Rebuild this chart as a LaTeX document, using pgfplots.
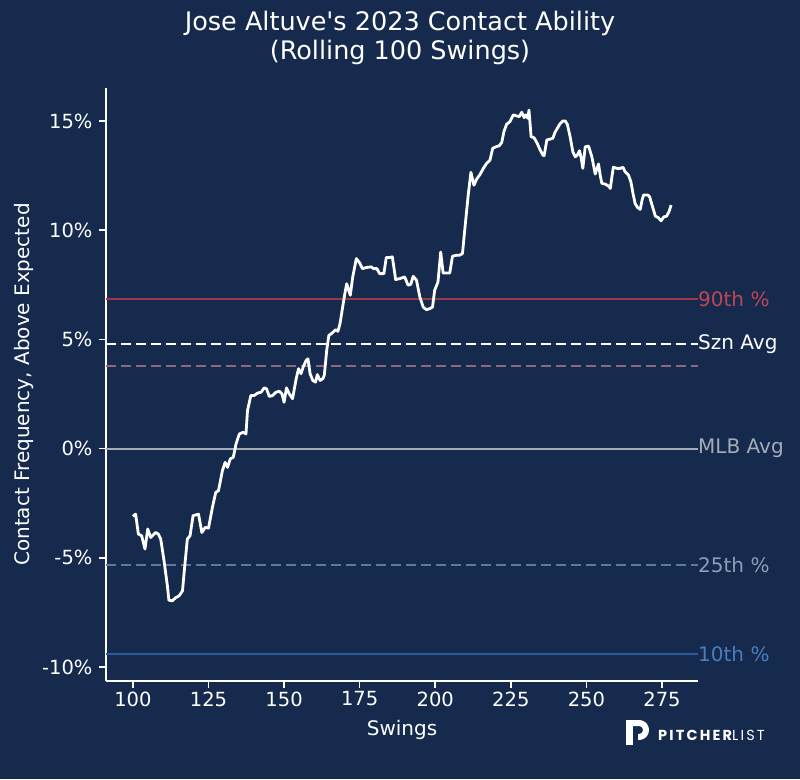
\documentclass[border=0pt]{standalone}
\usepackage{fontspec}
\setmainfont{DejaVu Sans}[Ligatures=TeXReset]
\newfontfamily\logofont[LetterSpace=15]{Poppins}
\usepackage{pgfplots}
\pgfplotsset{compat=1.18}
\definecolor{bg}{RGB}{22,42,77}
\definecolor{redl}{RGB}{160,55,72}
\definecolor{redt}{RGB}{190,70,85}
\definecolor{mauve}{RGB}{140,105,125}
\definecolor{mlb}{RGB}{165,172,185}
\definecolor{q25}{RGB}{95,120,155}
\definecolor{q25t}{RGB}{140,158,185}
\definecolor{q10}{RGB}{40,90,160}
\definecolor{q10t}{RGB}{75,125,190}
\begin{document}
\begin{tikzpicture}[x=1pt,y=1pt]
\fill[bg] (0,0) rectangle (800,779);
\begin{axis}[
  at={(106pt,98pt)}, anchor=south west,
  scale only axis, width=592pt, height=593pt,
  xmin=91.1, xmax=286.9, ymin=-10.64, ymax=16.51,
  axis x line*=bottom, axis y line*=left,
  axis line style={-, white, line width=1.8pt},
  tick align=outside, major tick length=7pt,
  tick style={white, line width=1.6pt},
  xtick={100,125,150,175,200,225,250,275},
  xticklabels={100,125,150,175,200,225,250,275},
  ytick={-10,-5,0,5,10,15},
  yticklabels={-10\%,-5\%,0\%,5\%,10\%,15\%},
  ticklabel style={text=white, font=\fontsize{19.5}{22}\selectfont},
  yticklabel style={xshift=-3pt},
  xlabel={Swings}, ylabel={Contact Frequency, Above Expected},
  label style={text=white, font=\fontsize{20}{24}\selectfont},
  xlabel style={yshift=-7pt},
  ylabel style={yshift=2pt},
  clip=false,
]
\addplot[redl, line width=2pt] coordinates {(91.1,6.83) (286.9,6.83)};
\addplot[white, line width=2pt, dash pattern=on 10pt off 5pt] coordinates {(91.1,4.77) (286.9,4.77)};
\addplot[mauve, line width=2pt, dash pattern=on 10pt off 5pt] coordinates {(91.1,3.76) (286.9,3.76)};
\addplot[mlb, line width=2pt] coordinates {(91.1,0) (286.9,0)};
\addplot[q25, line width=2pt, dash pattern=on 10pt off 5pt] coordinates {(91.1,-5.32) (286.9,-5.32)};
\addplot[q10, line width=2pt] coordinates {(91.1,-9.40) (286.9,-9.40)};
\addplot[white, line width=2.8pt, line join=round] coordinates {
(100.0,-3.10) (100.9,-3.00) (101.8,-3.91) (102.9,-3.99) (104.0,-4.60) (104.9,-3.68) (105.9,-4.07) (107.5,-3.84) (108.4,-3.91) (109.2,-4.14) (110.3,-5.14) (111.4,-6.28) (111.9,-6.94) (113.0,-6.97) (114.2,-6.82) (115.3,-6.74) (116.4,-6.51) (117.1,-5.44) (118.0,-4.14) (118.9,-3.99) (119.9,-3.07) (121.7,-3.00) (122.8,-3.84) (123.9,-3.61) (125.0,-3.64) (126.3,-2.69) (127.4,-2.00) (128.3,-1.93) (129.6,-1.01) (130.5,-0.63) (131.3,-0.86) (132.2,-0.47) (133.2,-0.40) (134.1,0.21) (135.2,0.67) (136.5,0.75) (137.4,0.67) (137.9,1.74)
(139.0,2.43) (140.1,2.43) (141.2,2.54) (142.4,2.58) (143.4,2.78) (144.2,2.74) (145.1,2.39) (146.2,2.43) (147.3,2.58) (148.4,2.63) (149.3,2.51) (150.0,2.12) (150.8,2.78) (151.7,2.51) (152.8,2.28) (154.0,3.20) (154.8,3.66) (155.6,3.43) (156.4,3.76) (157.3,4.04) (157.9,4.11) (158.6,3.43) (159.5,3.12) (160.4,3.04) (161.0,3.39) (161.9,3.12) (162.8,3.20) (163.3,3.35) (164.1,4.50) (164.8,5.18) (165.9,5.29) (167.0,5.44) (167.8,5.37) (168.5,5.72) (169.2,6.33) (170.0,7.02) (170.7,7.55) (171.9,7.02) (172.7,7.86) (173.9,8.70) (175.0,8.50) (175.9,8.24) (177.2,8.29) (178.8,8.32) (179.6,8.24) (180.7,8.24) (181.6,8.01) (183.0,8.01) (183.8,8.75) (184.9,8.75) (185.8,8.78) (186.9,7.74) (188.2,7.78) (189.3,7.83) (189.9,7.86) (191.0,7.48) (191.9,7.52) (192.7,7.89) (193.8,7.71) (194.9,6.94) (196.0,6.48) (197.1,6.36) (198.2,6.41) (199.1,6.48) (199.8,7.25) (200.9,7.63) (201.8,9.00) (202.6,8.04) (203.7,8.04) (204.8,8.04) (205.7,8.81) (207.0,8.85) (208.0,8.85) (209.0,8.93) (209.8,10.08) (210.9,11.61) (211.8,12.65) (212.8,12.06) (213.7,12.34) (214.8,12.55) (215.9,12.83) (217.0,13.06) (218.1,13.21) (219.0,13.75) (220.1,13.82) (221.2,13.87) (222.0,14.02) (222.7,14.51) (223.6,14.85) (224.7,14.97) (225.8,15.28) (226.7,15.24) (227.8,15.20) (228.6,15.40) (229.4,15.15) (230.0,15.28) (230.6,15.12) (231.0,15.50) (231.7,14.28) (232.7,14.23) (233.7,13.98) (234.7,13.67) (235.6,13.44) (236.0,13.41) (236.9,14.13) (238.0,14.17) (238.9,14.21) (239.6,14.48) (240.4,14.67) (241.3,14.88) (242.2,15.00) (243.0,15.00) (243.7,14.84) (244.6,14.28) (245.5,13.59) (246.3,13.36) (247.0,13.44) (247.7,13.64) (248.3,13.29) (248.8,12.83) (249.6,13.82) (250.7,13.85) (251.8,13.36) (252.9,12.57) (253.5,12.83) (254.0,13.03) (254.6,12.48) (255.1,12.14) (256.2,12.11) (257.3,12.02) (257.9,11.91) (258.4,12.42) (258.9,12.88) (260.1,12.83) (261.2,12.83) (262.1,12.88) (262.8,12.67) (263.9,12.52) (264.7,12.22) (265.4,11.68) (266.1,11.22) (266.9,11.04) (267.8,10.95) (268.4,11.38) (268.9,11.61) (270.3,11.61) (270.9,11.53) (271.7,11.15) (272.8,10.64) (273.7,10.58) (274.7,10.43) (275.6,10.61) (276.5,10.64) (277.3,10.84) (278.0,11.15)
};
\begin{scope}[every node/.style={anchor=west, inner sep=0pt, font=\fontsize{20}{24}\selectfont}]
\node[text=redt] at (axis cs:286.9,6.83) {90th \%};
\node[text=white] at (axis cs:286.9,4.77) {Szn Avg};
\node[text=mlb] at (axis cs:286.9,0) {MLB Avg};
\node[text=q25t] at (axis cs:286.9,-5.32) {25th \%};
\node[text=q10t] at (axis cs:286.9,-9.40) {10th \%};
\end{scope}
\end{axis}
\node[text=white, align=center, font=\fontsize{25.5}{29}\selectfont] at (400,741) {Jose Altuve's 2023 Contact Ability\\(Rolling 100 Swings)};
% logo
\draw[white, line width=7pt] (629.5,34) -- (629.5,56);
\draw[white, line width=6pt, line join=round] (626,56) -- (639,56) arc (90:-90:7pt) -- (638,42);
\node[anchor=west, inner sep=0pt, text=white] at (658,44) {\logofont\fontsize{14.5}{18}\selectfont\bfseries PITCHER\mdseries LIST};
\end{tikzpicture}
\end{document}
